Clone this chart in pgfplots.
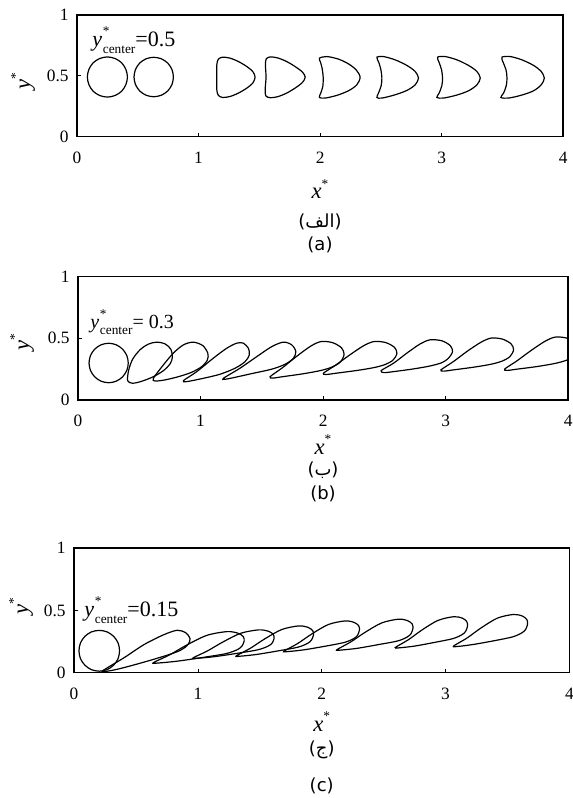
\documentclass[border=0pt]{standalone}
\usepackage{fontspec}
\setmainfont{Liberation Serif}
\newfontfamily\arabicfont[Script=Arabic]{DejaVu Sans}
\newfontfamily\capfont{DejaVu Sans}
\usepackage{pgfplots}
\pgfplotsset{compat=1.18}
\TeXXeTstate=1

% y*_center annotation: #1 main size, #2 value text
\newcommand{\ycenter}[2]{{\fontsize{#1}{#1}\selectfont\textit{y}\kern0.6pt\makebox[0pt][l]{\raisebox{0.5em}{\fontsize{10}{10}\selectfont *}}\raisebox{-0.3em}{\fontsize{10}{10}\selectfont center}#2}}
\newcommand{\starlabel}[1]{{\fontsize{17}{17}\selectfont\textit{#1}\raisebox{0.45em}{\fontsize{10}{10}\selectfont *}}}
% caption: Latin parentheses round a right-to-left word
\newcommand{\rtlcap}[1]{{\fontsize{13.5}{15}\selectfont\capfont(\arabicfont\beginR #1\endR\capfont)}}
\newcommand{\latcap}[1]{{\capfont\fontsize{13.5}{15}\selectfont (#1)}}

\pgfplotsset{
  dropframe/.style={
    scale only axis,
    xmin=0, xmax=4, ymin=0, ymax=1,
    xtick={0,1,2,3,4}, ytick={0,0.5,1},
    tick align=inside, xtick pos=left, ytick pos=left,
    major tick length=3pt,
    tick style={black, line width=0.5pt},
    axis line style={black, line width=1.2pt},
    ticklabel style={font=\fontsize{13}{15}\selectfont},
    /pgf/number format/assume math mode=true,
    yticklabel style={xshift=-2.8pt},
    xticklabel style={yshift=-8pt},
    clip=true,
  },
  drop/.style={black, line width=0.9pt, mark=none, smooth cycle},
}

\begin{document}
\begin{tikzpicture}
\path[use as bounding box] (0pt,0pt) rectangle (429pt,-598.5pt);

% ---------------- (a) y*_center = 0.5 ----------------
\begin{axis}[dropframe, at={(57.75pt,-102.5pt)}, anchor=south west,
  width=364.7pt, height=91.3pt]
\addplot[drop] coordinates {(0.415,0.490) (0.402,0.553) (0.367,0.607) (0.313,0.642) (0.250,0.655) (0.187,0.642) (0.133,0.607) (0.098,0.553) (0.085,0.490) (0.098,0.427) (0.133,0.373) (0.187,0.338) (0.250,0.325) (0.313,0.338) (0.367,0.373) (0.402,0.427)};
\addplot[drop] coordinates {(0.793,0.490) (0.781,0.552) (0.746,0.605) (0.693,0.640) (0.631,0.652) (0.569,0.640) (0.516,0.605) (0.481,0.552) (0.469,0.490) (0.481,0.428) (0.516,0.375) (0.569,0.340) (0.631,0.328) (0.693,0.340) (0.746,0.375) (0.781,0.428)};
\addplot[drop] coordinates {(1.150,0.489) (1.150,0.590) (1.163,0.637) (1.199,0.653) (1.259,0.645) (1.328,0.617) (1.397,0.576) (1.446,0.535) (1.465,0.489) (1.446,0.440) (1.397,0.399) (1.328,0.358) (1.259,0.330) (1.199,0.322) (1.163,0.339) (1.150,0.385)};
\addplot[drop] coordinates {(1.555,0.489) (1.550,0.590) (1.557,0.640) (1.590,0.655) (1.650,0.647) (1.725,0.617) (1.800,0.572) (1.855,0.530) (1.877,0.489) (1.855,0.446) (1.800,0.403) (1.725,0.358) (1.650,0.328) (1.590,0.320) (1.553,0.335) (1.548,0.388)};
\addplot[drop] coordinates {(1.994,0.645) (2.055,0.658) (2.151,0.637) (2.233,0.598) (2.296,0.549) (2.329,0.489) (2.302,0.426) (2.233,0.377) (2.137,0.339) (2.041,0.317) (1.994,0.322) (2.005,0.358) (2.022,0.412) (2.025,0.489) (2.016,0.563) (2.003,0.612)};
\addplot[drop] coordinates {(2.467,0.653) (2.521,0.658) (2.617,0.631) (2.714,0.585) (2.782,0.535) (2.809,0.481) (2.782,0.426) (2.714,0.380) (2.617,0.344) (2.508,0.317) (2.467,0.322) (2.480,0.358) (2.502,0.418) (2.508,0.481) (2.500,0.549) (2.483,0.609)};
\addplot[drop] coordinates {(2.966,0.653) (3.029,0.658) (3.125,0.631) (3.221,0.585) (3.290,0.535) (3.317,0.481) (3.290,0.426) (3.221,0.377) (3.125,0.342) (3.015,0.317) (2.960,0.322) (2.979,0.358) (3.001,0.418) (3.007,0.481) (2.999,0.549) (2.979,0.609)};
\addplot[drop] coordinates {(3.495,0.653) (3.564,0.658) (3.660,0.631) (3.756,0.585) (3.819,0.535) (3.844,0.481) (3.819,0.426) (3.756,0.377) (3.660,0.342) (3.550,0.317) (3.487,0.322) (3.509,0.358) (3.531,0.418) (3.537,0.481) (3.529,0.549) (3.506,0.609)};
\end{axis}

% ---------------- (b) y*_center = 0.3 ----------------
\begin{axis}[dropframe, at={(58.5pt,-300pt)}, anchor=south west,
  width=367.7pt, height=92.5pt]
\addplot[drop] coordinates {(0.410,0.300) (0.398,0.361) (0.363,0.413) (0.311,0.448) (0.250,0.460) (0.189,0.448) (0.137,0.413) (0.102,0.361) (0.090,0.300) (0.102,0.239) (0.137,0.187) (0.189,0.152) (0.250,0.140) (0.311,0.152) (0.363,0.187) (0.398,0.239)};
\addplot[drop] coordinates {(0.405,0.157) (0.414,0.244) (0.446,0.331) (0.506,0.407) (0.574,0.453) (0.642,0.469) (0.710,0.455) (0.757,0.412) (0.770,0.347) (0.751,0.293) (0.697,0.238) (0.615,0.189) (0.520,0.152) (0.446,0.136)};
\addplot[drop] coordinates {(0.615,0.176) (0.697,0.285) (0.778,0.380) (0.860,0.447) (0.941,0.469) (1.018,0.441) (1.059,0.380) (1.056,0.325) (1.010,0.271) (0.928,0.225) (0.819,0.189) (0.710,0.163) (0.629,0.154)};
\addplot[drop] coordinates {(0.860,0.157) (0.969,0.230) (1.104,0.339) (1.214,0.420) (1.296,0.461) (1.349,0.461) (1.390,0.420) (1.398,0.366) (1.363,0.311) (1.282,0.258) (1.159,0.209) (1.023,0.176) (0.887,0.149)};
\addplot[drop] coordinates {(1.186,0.176) (1.322,0.258) (1.459,0.352) (1.581,0.433) (1.676,0.469) (1.744,0.447) (1.777,0.393) (1.758,0.339) (1.690,0.290) (1.581,0.250) (1.431,0.217) (1.268,0.181) (1.199,0.168)};
\addplot[drop] coordinates {(1.567,0.189) (1.670,0.263) (1.784,0.354) (1.899,0.437) (1.984,0.474) (2.077,0.465) (2.150,0.423) (2.171,0.369) (2.141,0.309) (2.077,0.269) (1.984,0.240) (1.839,0.213) (1.670,0.189) (1.591,0.178)};
\addplot[drop] coordinates {(2.002,0.217) (2.104,0.284) (2.218,0.366) (2.332,0.441) (2.416,0.474) (2.509,0.466) (2.581,0.428) (2.602,0.379) (2.572,0.325) (2.509,0.289) (2.416,0.263) (2.272,0.239) (2.104,0.217) (2.026,0.207)};
\addplot[drop] coordinates {(2.473,0.238) (2.574,0.298) (2.683,0.380) (2.792,0.455) (2.873,0.488) (2.969,0.480) (3.037,0.441) (3.056,0.393) (3.023,0.339) (2.969,0.303) (2.873,0.276) (2.737,0.252) (2.574,0.230) (2.498,0.222)};
\addplot[drop] coordinates {(2.961,0.244) (3.062,0.311) (3.174,0.394) (3.287,0.468) (3.370,0.502) (3.462,0.494) (3.533,0.456) (3.554,0.407) (3.524,0.352) (3.462,0.316) (3.370,0.290) (3.228,0.266) (3.062,0.244) (2.985,0.234)};
\addplot[drop] coordinates {(3.480,0.250) (3.582,0.318) (3.696,0.401) (3.810,0.476) (3.894,0.510) (3.987,0.502) (4.059,0.463) (4.080,0.414) (4.050,0.359) (3.987,0.323) (3.894,0.297) (3.750,0.272) (3.582,0.250) (3.504,0.240)};
\end{axis}

% ---------------- (c) y*_center = 0.15 ----------------
\begin{axis}[dropframe, at={(55.5pt,-504.5pt)}, anchor=south west,
  width=371.5pt, height=93.3pt]
\addplot[drop] coordinates {(0.368,0.176) (0.356,0.239) (0.320,0.292) (0.267,0.328) (0.204,0.340) (0.141,0.328) (0.088,0.292) (0.052,0.239) (0.040,0.176) (0.052,0.113) (0.088,0.060) (0.141,0.024) (0.204,0.012) (0.267,0.024) (0.320,0.060) (0.356,0.113)};
\addplot[drop] coordinates {(0.230,0.014) (0.404,0.120) (0.566,0.226) (0.727,0.306) (0.835,0.341) (0.903,0.320) (0.937,0.274) (0.921,0.226) (0.862,0.181) (0.754,0.141) (0.566,0.085) (0.377,0.034) (0.270,0.012)};
\addplot[drop] coordinates {(0.640,0.080) (0.772,0.143) (0.912,0.223) (1.073,0.300) (1.235,0.330) (1.323,0.318) (1.367,0.290) (1.374,0.255) (1.356,0.213) (1.319,0.185) (1.227,0.153) (1.044,0.123) (0.838,0.093) (0.684,0.078)};
\addplot[drop] coordinates {(0.960,0.118) (1.078,0.175) (1.203,0.247) (1.347,0.317) (1.491,0.344) (1.570,0.333) (1.609,0.308) (1.616,0.276) (1.600,0.238) (1.567,0.213) (1.485,0.184) (1.321,0.156) (1.137,0.129) (0.999,0.116)};
\addplot[drop] coordinates {(1.310,0.135) (1.422,0.195) (1.541,0.272) (1.678,0.347) (1.815,0.376) (1.890,0.364) (1.928,0.337) (1.934,0.304) (1.918,0.263) (1.887,0.236) (1.809,0.205) (1.653,0.176) (1.478,0.147) (1.347,0.133)};
\addplot[drop] coordinates {(1.694,0.172) (1.804,0.233) (1.920,0.311) (2.054,0.387) (2.189,0.416) (2.262,0.404) (2.299,0.377) (2.305,0.343) (2.290,0.301) (2.259,0.274) (2.183,0.243) (2.030,0.213) (1.859,0.184) (1.731,0.170)};
\addplot[drop] coordinates {(2.122,0.184) (2.233,0.246) (2.350,0.324) (2.485,0.400) (2.620,0.430) (2.694,0.418) (2.731,0.391) (2.737,0.356) (2.722,0.314) (2.691,0.287) (2.614,0.255) (2.460,0.226) (2.288,0.196) (2.159,0.182)};
\addplot[drop] coordinates {(2.594,0.202) (2.699,0.264) (2.810,0.343) (2.939,0.420) (3.067,0.450) (3.137,0.438) (3.172,0.410) (3.178,0.376) (3.163,0.333) (3.134,0.306) (3.061,0.274) (2.915,0.244) (2.752,0.214) (2.629,0.200)};
\addplot[drop] coordinates {(3.065,0.214) (3.173,0.278) (3.286,0.359) (3.418,0.438) (3.549,0.468) (3.621,0.455) (3.657,0.427) (3.663,0.392) (3.648,0.349) (3.618,0.321) (3.543,0.288) (3.394,0.257) (3.226,0.227) (3.101,0.211)};
\end{axis}

% ---------------- labels and captions ----------------
\begin{scope}[x=0.75pt, y=-0.75pt]
% panel (a)
\node[anchor=base west, inner sep=0pt] at (92,46.7) {\ycenter{16.5}{=0.5}};
\node[rotate=90] at (23,81) {\starlabel{y}};
\node[anchor=base, inner sep=0pt] at (320,199) {\starlabel{x}};
\node at (320,222) {\rtlcap{الف}};
\node at (320,245) {\latcap{a}};
% panel (b)
\node[anchor=base west, inner sep=0pt] at (90,328) {\ycenter{15}{= 0.3}};
\node[rotate=90] at (22,342) {\starlabel{y}};
\node[anchor=base, inner sep=0pt] at (323,454) {\starlabel{x}};
\node at (323,470) {\rtlcap{ب}};
\node at (323,494) {\latcap{b}};
% panel (c)
\node[anchor=base west, inner sep=0pt] at (84,616.5) {\ycenter{16.5}{=0.15}};
\node[rotate=90] at (21,606) {\starlabel{y}};
\node[anchor=base, inner sep=0pt] at (321.7,731) {\starlabel{x}};
\node at (321.7,750) {\rtlcap{ج}};
\node at (321.7,786) {\latcap{c}};
\end{scope}
\end{tikzpicture}
\end{document}
